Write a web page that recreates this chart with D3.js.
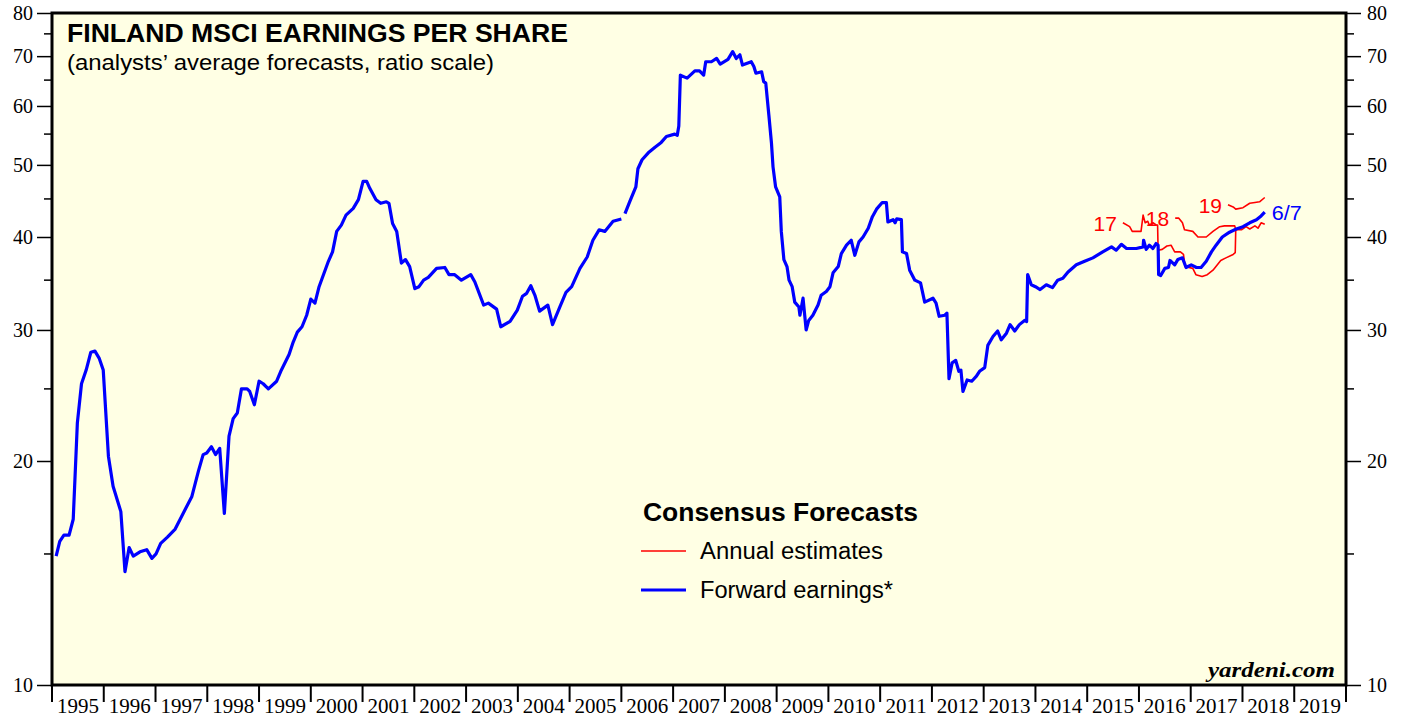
<!DOCTYPE html>
<html>
<head>
<meta charset="utf-8">
<script src="https://cdn.jsdelivr.net/npm/d3@7/dist/d3.min.js"></script>
<style>
  html, body { margin: 0; padding: 0; background: #ffffff; }
  svg { display: block; }
</style>
</head>
<body>
<svg id="chart" width="1407" height="717"></svg>
<script>
// Forward earnings per share, [decimal year, value]; null marks a break in the series
const forwardEarnings = [
  [1995.08,14.9],[1995.15,15.6],[1995.23,15.9],[1995.33,15.9],[1995.41,16.7],[1995.49,22.5],
  [1995.57,25.4],[1995.66,26.5],[1995.75,28.0],[1995.83,28.1],[1995.91,27.5],[1995.99,26.5],
  [1996.09,20.3],[1996.18,18.5],[1996.33,17.1],[1996.41,14.2],[1996.49,15.3],[1996.57,14.9],
  [1996.70,15.1],[1996.83,15.2],[1996.93,14.8],[1997.01,15.0],[1997.10,15.5],[1997.23,15.8],
  [1997.38,16.2],[1997.57,17.2],[1997.70,17.9],[1997.83,19.4],[1997.92,20.4],[1997.99,20.5],
  [1998.08,20.9],[1998.16,20.4],[1998.24,20.8],[1998.33,17.0],[1998.42,21.6],[1998.50,22.8],
  [1998.58,23.2],[1998.66,25.0],[1998.77,25.0],[1998.82,24.8],[1998.91,23.8],[1999.00,25.6],
  [1999.08,25.4],[1999.18,25.0],[1999.34,25.6],[1999.42,26.4],[1999.58,27.8],[1999.66,28.9],
  [1999.74,29.8],[1999.83,30.3],[1999.92,31.4],[2000.00,33.0],[2000.08,32.6],[2000.16,34.3],
  [2000.34,37.1],[2000.42,38.2],[2000.50,40.7],[2000.59,41.5],[2000.68,42.8],[2000.82,43.7],
  [2000.92,44.9],[2001.01,47.5],[2001.08,47.5],[2001.14,46.5],[2001.26,44.9],[2001.35,44.4],
  [2001.46,44.6],[2001.51,44.4],[2001.58,41.7],[2001.66,40.7],[2001.75,36.9],[2001.83,37.3],
  [2001.91,36.5],[2002.01,34.1],[2002.09,34.3],[2002.18,35.0],[2002.27,35.3],[2002.43,36.3],
  [2002.59,36.4],[2002.67,35.6],[2002.78,35.6],[2002.91,35.0],[2003.09,35.6],[2003.17,34.8],
  [2003.34,32.4],[2003.43,32.6],[2003.59,32.0],[2003.67,30.3],[2003.85,30.8],[2003.99,31.9],
  [2004.09,33.3],[2004.17,33.6],[2004.25,34.4],[2004.33,33.4],[2004.42,31.8],[2004.58,32.4],
  [2004.67,30.5],[2004.81,32.2],[2004.93,33.7],[2005.04,34.3],[2005.20,36.3],[2005.34,37.6],
  [2005.45,39.6],[2005.57,40.9],[2005.68,40.7],[2005.84,42.0],[2006.00,42.3],
  [2006.04,null],
  [2006.07,43.0],[2006.16,44.6],[2006.28,46.7],[2006.32,49.4],[2006.40,50.8],[2006.52,51.9],
  [2006.65,52.8],[2006.77,53.6],[2006.87,54.6],[2007.03,55.0],[2007.08,54.8],[2007.11,56.4],
  [2007.14,66.0],[2007.27,65.4],[2007.42,66.9],[2007.51,66.9],[2007.59,66.0],[2007.63,68.8],
  [2007.74,68.8],[2007.84,69.5],[2007.91,68.3],[2008.06,69.3],[2008.15,71.0],[2008.22,69.5],
  [2008.29,70.3],[2008.34,68.1],[2008.51,68.8],[2008.56,67.8],[2008.60,66.4],[2008.71,66.7],
  [2008.75,64.7],[2008.79,64.4],[2008.85,58.3],[2008.90,53.5],[2008.93,49.7],[2008.98,46.7],
  [2009.06,45.3],[2009.09,40.7],[2009.14,37.3],[2009.20,36.5],[2009.24,35.0],[2009.30,34.3],
  [2009.35,32.7],[2009.43,32.2],[2009.45,31.4],[2009.51,33.1],[2009.57,30.0],[2009.62,30.9],
  [2009.70,31.4],[2009.80,32.4],[2009.86,33.4],[2009.96,33.8],[2010.03,34.3],[2010.09,35.8],
  [2010.19,36.5],[2010.25,38.0],[2010.35,39.0],[2010.44,39.6],[2010.51,37.8],[2010.59,39.4],
  [2010.67,40.0],[2010.77,41.1],[2010.85,42.6],[2010.93,43.6],[2011.04,44.5],[2011.12,44.5],
  [2011.15,41.9],[2011.25,42.2],[2011.29,41.8],[2011.32,42.3],[2011.41,42.2],[2011.43,38.2],
  [2011.51,38.0],[2011.57,36.1],[2011.67,35.0],[2011.78,34.7],[2011.86,32.7],[2012.02,33.1],
  [2012.08,32.6],[2012.14,31.3],[2012.25,31.4],[2012.29,31.6],[2012.33,25.8],[2012.39,27.1],
  [2012.46,27.3],[2012.52,26.4],[2012.56,26.5],[2012.60,24.8],[2012.68,25.7],[2012.77,25.6],
  [2012.86,26.0],[2012.92,26.4],[2013.02,26.7],[2013.08,28.6],[2013.18,29.4],[2013.27,29.9],
  [2013.34,29.1],[2013.44,29.7],[2013.51,30.5],[2013.60,29.9],[2013.69,30.5],[2013.79,30.9],
  [2013.83,30.8],[2013.85,35.6],[2013.92,34.5],[2014.00,34.3],[2014.09,34.0],[2014.21,34.5],
  [2014.33,34.2],[2014.43,35.0],[2014.53,35.2],[2014.63,35.9],[2014.79,36.7],[2014.95,37.1],
  [2015.11,37.5],[2015.30,38.2],[2015.47,38.8],[2015.56,38.4],[2015.66,39.1],[2015.76,38.6],
  [2015.95,38.6],[2016.08,38.8],[2016.09,39.6],[2016.14,38.5],[2016.20,39.0],[2016.27,38.6],
  [2016.33,39.2],[2016.37,39.0],[2016.38,35.6],[2016.42,35.5],[2016.50,36.3],[2016.57,36.4],
  [2016.60,37.2],[2016.69,36.7],[2016.75,37.3],[2016.84,37.5],[2016.91,36.4],[2017.01,36.7],
  [2017.11,36.4],[2017.20,36.4],[2017.30,37.1],[2017.40,38.2],[2017.49,39.0],[2017.61,40.0],
  [2017.75,40.6],[2017.88,41.0],[2018.01,41.3],[2018.14,41.8],[2018.27,42.2],[2018.36,42.7],
  [2018.43,43.2]
];

// Consensus annual estimates for each calendar year, [decimal year, value]
const estimates2017 = [
  [2015.69,41.8],[2015.82,41.3],[2015.87,40.7],[2016.04,40.7],[2016.08,42.8],[2016.12,41.8],
  [2016.17,42.0],[2016.20,41.5],[2016.27,41.8],[2016.34,41.5],[2016.36,41.5],[2016.37,38.4],
  [2016.45,38.5],[2016.54,38.9],[2016.62,39.0],[2016.69,38.2],[2016.80,38.2],[2016.86,37.9],
  [2016.89,36.5],[2017.04,36.3],[2017.10,35.6],[2017.22,35.4],[2017.32,35.6],[2017.43,36.1],
  [2017.58,37.2],[2017.68,37.5],[2017.82,37.9],[2017.86,38.1],[2017.87,40.9]
];
const estimates2018 = [
  [2016.70,42.4],[2016.77,42.4],[2016.84,41.8],[2016.88,40.9],[2017.04,40.7],[2017.14,40.0],
  [2017.30,40.0],[2017.43,40.7],[2017.56,41.3],[2017.65,41.4],[2017.85,41.4],[2017.87,40.9],
  [2017.98,40.9],[2018.07,41.3],[2018.14,41.0],[2018.24,41.4],[2018.30,41.1],[2018.36,41.8],
  [2018.43,41.6]
];
const estimates2019 = [
  [2017.72,44.2],[2017.82,43.9],[2017.87,43.6],[2018.01,43.8],[2018.14,44.4],[2018.24,44.5],
  [2018.33,44.6],[2018.43,45.2]
];
const estimateSeries = [
  { label: "17", data: estimates2017 },
  { label: "18", data: estimates2018 },
  { label: "19", data: estimates2019 }
];
const lastDateLabel = "6/7";

// Axis ticks
const years = d3.range(1995, 2020);
const majorTicks = [10, 20, 30, 40, 50, 60, 70, 80];
const minorTicks = [15, 25, 35, 45, 55, 65, 75];

const svg = d3.select("#chart");
const margin = { left: 52, right: 61, top: 13, bottom: 32 };
const W = 1407, H = 717;

const x = d3.scaleLinear().domain([1995, 2020]).range([margin.left, W - margin.right]);
const y = d3.scaleLog().domain([10, 80]).range([H - margin.bottom, margin.top]);

const x0 = x.range()[0], x1 = x.range()[1];
const yTop = y.range()[1], yBot = y.range()[0];

// plot background
svg.append("rect")
  .attr("x", x0).attr("y", yTop)
  .attr("width", x1 - x0).attr("height", yBot - yTop)
  .attr("fill", "#ffffe4");

const serif = "'Liberation Serif', 'Times New Roman', serif";
const sans = "'Liberation Sans', Arial, Helvetica, sans-serif";

// text helper with a fixed rendered width
function fitText(sel, width) {
  return sel.attr("textLength", width).attr("lengthAdjust", "spacingAndGlyphs");
}

// left and right value axes
const leftAxis = d3.axisLeft(y).tickValues(majorTicks).tickFormat(d3.format("d")).tickSize(15).tickPadding(4);
const rightAxis = d3.axisRight(y).tickValues(majorTicks).tickFormat(d3.format("d")).tickSize(15).tickPadding(6);

function styleAxis(g) {
  g.select(".domain").remove();
  g.selectAll(".tick line").attr("stroke", "#000").attr("stroke-width", 1.5);
  g.selectAll(".tick text").attr("font-family", serif).attr("font-size", 20).attr("fill", "#000");
}

const gl = svg.append("g").attr("transform", `translate(${x0},0)`).call(leftAxis).call(styleAxis);
const gr = svg.append("g").attr("transform", `translate(${x1},0)`).call(rightAxis).call(styleAxis);

// minor ticks
gl.selectAll(".minor").data(minorTicks).join("line")
  .attr("x1", -8).attr("x2", 0)
  .attr("y1", d => y(d)).attr("y2", d => y(d))
  .attr("stroke", "#000").attr("stroke-width", 1.5);
gr.selectAll(".minor").data(minorTicks).join("line")
  .attr("x1", 0).attr("x2", 8)
  .attr("y1", d => y(d)).attr("y2", d => y(d))
  .attr("stroke", "#000").attr("stroke-width", 1.5);

// year axis: ticks at year boundaries, labels centred in each year
const gx = svg.append("g").attr("transform", `translate(0,${yBot})`);
gx.selectAll("line.yt").data(years.concat([2020])).join("line")
  .attr("x1", d => x(d)).attr("x2", d => x(d))
  .attr("y1", 0).attr("y2", 17)
  .attr("stroke", "#000").attr("stroke-width", 2);
gx.selectAll("text").data(years).join("text")
  .attr("x", d => x(d + 0.5))
  .attr("y", 28)
  .attr("text-anchor", "middle")
  .attr("font-family", serif).attr("font-size", 21)
  .text(d => d);

// frame
svg.append("rect")
  .attr("x", x0).attr("y", yTop)
  .attr("width", x1 - x0).attr("height", yBot - yTop)
  .attr("fill", "none").attr("stroke", "#000").attr("stroke-width", 3);

// series lines
const line = d3.line()
  .defined(d => d[1] != null)
  .x(d => x(d[0])).y(d => y(d[1]));

const gs = svg.append("g");
estimateSeries.forEach(s => {
  gs.append("path").datum(s.data)
    .attr("d", line)
    .attr("fill", "none").attr("stroke", "#ff0000").attr("stroke-width", 1.6)
    .attr("stroke-linejoin", "round");
  gs.append("text")
    .attr("x", x(s.data[0][0]) - 6)
    .attr("y", y(s.data[0][1]) + 8)
    .attr("text-anchor", "end")
    .attr("font-family", sans).attr("font-size", 21)
    .attr("fill", "#ff0000")
    .text(s.label);
});

gs.append("path").datum(forwardEarnings)
  .attr("d", line)
  .attr("fill", "none").attr("stroke", "#0000ff").attr("stroke-width", 3.2)
  .attr("stroke-linejoin", "round");

const lastPt = forwardEarnings[forwardEarnings.length - 1];
gs.append("text")
  .attr("x", x(lastPt[0]) + 7)
  .attr("y", y(lastPt[1]) + 8)
  .attr("font-family", sans).attr("font-size", 21)
  .attr("fill", "#0000ff")
  .call(fitText, 30)
  .text(lastDateLabel);

// titles
svg.append("text")
  .attr("x", 67).attr("y", 42)
  .attr("font-family", sans).attr("font-weight", "bold").attr("font-size", 25)
  .call(fitText, 501)
  .text("FINLAND MSCI EARNINGS PER SHARE");
svg.append("text")
  .attr("x", 67).attr("y", 70)
  .attr("font-family", sans).attr("font-size", 22)
  .call(fitText, 427)
  .text("(analysts’ average forecasts, ratio scale)");

// legend
const lg = svg.append("g");
lg.append("text")
  .attr("x", 643).attr("y", 521)
  .attr("font-family", sans).attr("font-weight", "bold").attr("font-size", 25)
  .call(fitText, 275)
  .text("Consensus Forecasts");
const legendItems = [
  { label: "Annual estimates", color: "#ff0000", width: 1.6, y: 551, textWidth: 183 },
  { label: "Forward earnings*", color: "#0000ff", width: 3.2, y: 590, textWidth: 193 }
];
legendItems.forEach(it => {
  lg.append("line")
    .attr("x1", 641).attr("x2", 686)
    .attr("y1", it.y).attr("y2", it.y)
    .attr("stroke", it.color).attr("stroke-width", it.width);
  lg.append("text")
    .attr("x", 700).attr("y", it.y + 8)
    .attr("font-family", sans).attr("font-size", 23)
    .call(fitText, it.textWidth)
    .text(it.label);
});

// source
svg.append("text")
  .attr("x", 1335).attr("y", 677)
  .attr("text-anchor", "end")
  .attr("font-family", serif).attr("font-weight", "bold").attr("font-style", "italic")
  .attr("font-size", 22)
  .call(fitText, 127)
  .text("yardeni.com");
</script>
</body>
</html>
